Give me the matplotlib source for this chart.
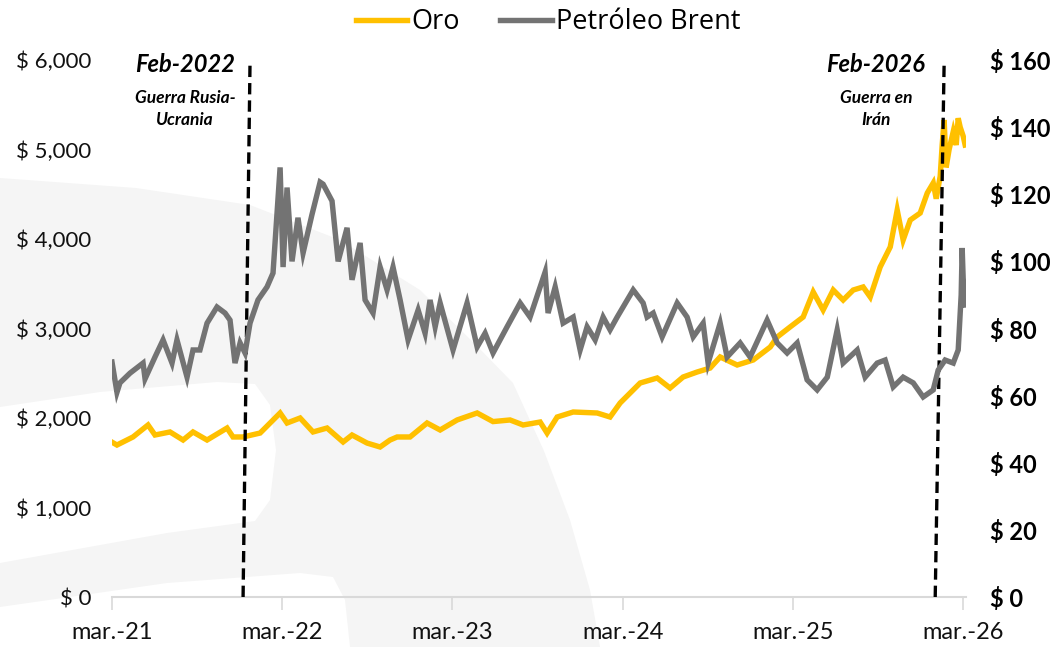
import matplotlib
matplotlib.use("Agg")
import matplotlib.pyplot as plt
from matplotlib.patches import Polygon
from matplotlib.ticker import FuncFormatter, MultipleLocator

# x values are months since mar.-21
oro_mes = [0.0, 0.35, 1.48, 2.54, 3.03, 4.09, 5.01, 5.71, 6.70, 8.11, 8.53, 9.24,
           10.44, 11.85, 12.34, 13.26, 14.17, 15.16, 16.29, 16.92, 17.98, 18.90,
           19.60, 20.10, 21.01, 22.21, 23.13, 24.33, 25.74, 26.86, 28.06, 28.98,
           30.18, 30.67, 31.38, 32.51, 34.20, 35.11, 35.82, 37.23, 38.43, 39.34,
           40.26, 41.25, 42.16, 42.87, 44.07, 45.20, 46.40, 46.89, 47.80, 48.72,
           49.43, 50.13, 50.84, 51.54, 52.25, 52.95, 53.45, 54.15, 54.86, 55.35,
           55.77, 56.27, 56.97, 57.47, 57.89, 58.10, 58.38, 58.52, 58.66, 58.80,
           59.01, 59.30, 59.51, 59.65, 59.79, 60.0, 60.14]
oro = [1730, 1698, 1788, 1922, 1810, 1844, 1754, 1844, 1754, 1888, 1788, 1788,
       1832, 2056, 1944, 2000, 1844, 1888, 1732, 1810, 1720, 1676,
       1754, 1788, 1788, 1944, 1866, 1978, 2056, 1960, 1978, 1922,
       1955, 1832, 2011, 2067, 2056, 2011, 2168, 2391, 2447, 2335,
       2458, 2514, 2558, 2682, 2592, 2648, 2793, 2905, 3017, 3128,
       3408, 3207, 3430, 3318, 3430, 3464, 3352, 3687, 3911, 4324,
       3989, 4212, 4290, 4514, 4626, 4450, 4700, 5050, 5330, 4800,
       5000, 5200, 5050, 5350, 5250, 5150, 5050]

brent_mes = [0.0, 0.35, 0.56, 1.27, 2.19, 2.33, 3.03, 3.60, 4.23, 4.58, 5.29, 5.71,
             6.20, 6.70, 7.40, 7.97, 8.32, 8.67, 9.03, 9.38, 9.73, 10.29, 10.93,
             11.35, 11.85, 12.06, 12.34, 12.69, 13.11, 13.47, 14.10, 14.67, 14.88,
             15.51, 15.94, 16.57, 16.92, 17.49, 17.84, 18.40, 18.90, 19.39, 19.81,
             20.31, 20.87, 21.58, 22.07, 22.42, 22.78, 23.13, 24.04, 25.03, 25.74,
             26.30, 26.86, 27.85, 28.77, 29.47, 30.53, 30.74, 31.24, 31.80, 32.51,
             33.00, 33.49, 34.06, 34.62, 35.11, 35.61, 36.74, 37.44, 37.72, 38.15,
             38.78, 39.84, 40.54, 40.97, 41.67, 42.02, 42.87, 43.36, 44.28, 44.98,
             46.18, 46.89, 47.59, 48.30, 49.00, 49.71, 50.42, 51.12, 51.54, 52.53,
             53.09, 53.94, 54.50, 55.07, 55.77, 56.48, 57.18, 57.89, 58.24, 58.73,
             59.30, 59.65, 59.86, 59.93, 60.0, 60.14]
brent = [70.0, 61.0, 63.8, 66.7, 69.7, 65.0, 71.5, 76.6, 69.7, 76.6, 65.5, 73.6,
         73.6, 81.6, 86.4, 84.6, 82.5, 69.7, 75.7, 72.7, 81.6, 88.5, 92.4,
         96.5, 128.0, 98.3, 122.0, 100.0, 113.0, 102.5, 114.0, 123.6, 123.0,
         118.0, 100.0, 110.0, 94.5, 105.5, 88.5, 84.6, 98.3, 91.5, 98.3,
         88.5, 76.6, 85.5, 78.6, 88.5, 80.5, 87.6, 73.6, 87.6, 74.5,
         78.6, 72.7, 80.5, 87.6, 83.4, 96.8, 84.6, 92.4, 81.6, 83.4,
         73.6, 80.5, 76.6, 83.4, 79.6, 83.4, 91.5, 87.6, 83.4, 84.6,
         77.5, 87.6, 83.4, 77.5, 81.6, 69.7, 81.6, 71.5, 75.7, 71.5,
         82.5, 75.7, 72.7, 75.7, 64.7, 61.7, 65.5, 79.6, 69.7, 73.6,
         65.5, 69.7, 70.6, 62.6, 65.5, 63.8, 59.6, 61.7, 67.6, 70.6,
         69.7, 73.6, 90.0, 104.0, 95.0, 87.0]

eventos = [(9.73, 9.24, "Feb-2022", "Guerra Rusia-\nUcrania", 185),
           (58.66, 58.03, "Feb-2026", "Guerra en\nIrán", 876)]

meses_ticks = [0, 12, 24, 36, 48, 60]
etiquetas_x = ["mar.-21", "mar.-22", "mar.-23", "mar.-24", "mar.-25", "mar.-26"]

W, H = 1058, 647
ORO_C = "#FFC000"
BRENT_C = "#737373"


def fpx(x, y):
    return (x / W, 1 - y / H)


fig = plt.figure(figsize=(W / 100, H / 100), dpi=100)

# faint background logo
fondo = [(0, 178), (136, 188), (250, 205), (340, 240), (420, 290), (476, 345),
         (513, 383), (544, 451), (570, 520), (590, 590), (600, 647), (0, 647)]
fig.patches.append(Polygon([fpx(*p) for p in fondo], closed=True, transform=fig.transFigure,
                           facecolor="#f5f5f5", edgecolor="none", zorder=-10))
banda1 = [(0, 407), (100, 392), (217, 382), (255, 384), (270, 405), (276, 450),
          (270, 500), (255, 521), (167, 533), (0, 563)]
banda2 = [(0, 607), (167, 583), (300, 573), (333, 577), (345, 600), (350, 647), (0, 647)]
for b in (banda1, banda2):
    fig.patches.append(Polygon([fpx(*p) for p in b], closed=True, transform=fig.transFigure,
                               facecolor="white", edgecolor="none", zorder=-9))

left, right = 112 / W, 966 / W
bottom, top = (H - 597) / H, (H - 60) / H
ax = fig.add_axes([left, bottom, right - left, top - bottom])
ax2 = ax.twinx()
for a in (ax, ax2):
    a.patch.set_visible(False)
    for s in a.spines.values():
        s.set_visible(False)

l1, = ax.plot(oro_mes, oro, color=ORO_C, lw=3.9, solid_joinstyle="miter", label="Oro")
l2, = ax2.plot(brent_mes, brent, color=BRENT_C, lw=3.9, solid_joinstyle="miter",
               label="Petróleo Brent")

ax.set_xlim(0, 60.2)
ax.set_ylim(0, 6000)
ax2.set_ylim(0, 160)
ax.yaxis.set_major_locator(MultipleLocator(1000))
ax2.yaxis.set_major_locator(MultipleLocator(20))
ax.yaxis.set_major_formatter(FuncFormatter(lambda v, p: "$ {:,.0f}".format(v)))
ax2.yaxis.set_major_formatter(FuncFormatter(lambda v, p: "$ {:.0f}".format(v)))
ax.tick_params(axis="y", length=0, pad=15, labelsize=16, labelcolor="#111111")
ax2.tick_params(axis="y", length=0, pad=17, labelsize=17)
for t in ax2.get_yticklabels():
    t.set_fontweight("bold")

ax.spines["bottom"].set_visible(True)
ax.spines["bottom"].set_color("#d9d9d9")
ax.spines["bottom"].set_linewidth(1.5)
ax.set_xticks(meses_ticks)
ax.set_xticklabels(etiquetas_x)
ax.tick_params(axis="x", length=9, width=1.2, color="#d9d9d9", pad=9, labelsize=17,
               labelcolor="#111111")
for t in ax.get_yticklabels() + ax.get_xticklabels() + ax2.get_yticklabels():
    t.set_fontfamily("Lato")

for x_top, x_bot, titulo, sub, cx in eventos:
    ax.plot([x_bot, x_top], [0, 5980], color="black", lw=2.4, ls=(0, (3.4, 1.8)),
            clip_on=False, zorder=5)
    fig.text(*fpx(cx, 65), titulo, ha="center", va="center", fontsize=17,
             fontweight="bold", fontstyle="italic", family="Lato")
    fig.text(*fpx(cx, 109), sub, ha="center", va="center", fontsize=12.5,
             fontweight="bold", fontstyle="italic", family="Lato", linespacing=1.5)

fig.legend(handles=[l1, l2], loc="upper center", bbox_to_anchor=(0.518, 1.025), ncol=2,
           frameon=False, handlelength=1.9, handletextpad=0.15, columnspacing=1.5,
           prop={"family": "Open Sans", "size": 19.5})

fig.savefig("out.png", dpi=100, facecolor="white")
